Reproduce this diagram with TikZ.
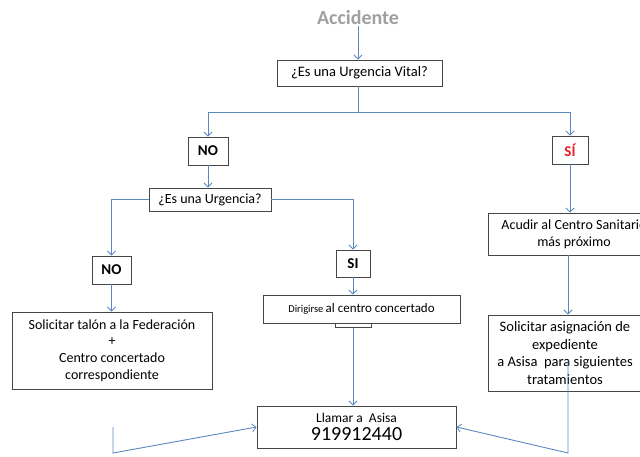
\documentclass[tikz,border=0pt]{standalone}
\usepackage{fontspec}
\setmainfont{Carlito}
\usetikzlibrary{arrows.meta}
\definecolor{lineblue}{RGB}{92,136,192}
\definecolor{boxgray}{RGB}{70,70,70}
\definecolor{accgray}{RGB}{160,160,160}
\definecolor{sired}{RGB}{235,30,35}
\tikzset{
  box/.style={draw=boxgray, line width=0.9pt, inner sep=0pt, align=center, fill=white},
  tag/.style={box, font=\fontsize{15}{18}\selectfont\bfseries},
  conn/.style={draw=lineblue, line width=0.9pt},
  arr/.style={conn, -{Straight Barb[length=4pt,width=8pt,line width=0.8pt]}},
  txt/.style={font=\fontsize{14}{16.8}\selectfont}
}
\begin{document}
\begin{tikzpicture}[x=1pt,y=-1pt]
\useasboundingbox (0,0) rectangle (640,456);
\clip (0,0) rectangle (640,456);
\fill[white] (0,0) rectangle (640,456);

\node[font=\fontsize{20}{24}\selectfont\bfseries, text=accgray, inner sep=1pt] (acc) at (358,18) {Accidente};
\node[box, minimum width=165pt, minimum height=26pt, font=\fontsize{14.5}{17}\selectfont] (vital) at (359.5,73) {¿Es una Urgencia Vital?};
\node[tag, minimum width=40pt, minimum height=28pt] (no1) at (208,151) {NO};
\node[tag, minimum width=36pt, minimum height=28pt, text=sired] (si1) at (570,150) {SÍ};
\node[box, minimum width=122pt, minimum height=23pt, font=\fontsize{14}{16}\selectfont] (urg) at (210,199.5) {¿Es una Urgencia?};
\node[tag, minimum width=39pt, minimum height=28pt] (no2) at (111.5,270) {NO};
\node[tag, minimum width=34pt, minimum height=27pt] (si2) at (353,263.5) {SI};
\node[box, minimum width=197pt, minimum height=28pt] (dir) at (361.5,309) {{\fontsize{10.5}{13}\selectfont Dirigirse} {\fontsize{13}{16}\selectfont al centro concertado}};
\node[draw=boxgray, line width=0.9pt, fill=white, minimum width=36pt, minimum height=4pt, inner sep=0pt, anchor=north] (tab) at (353,323) {};
\node[box, txt, minimum width=200pt, minimum height=77pt] (sol1) at (112,350.5) {Solicitar talón a la Federación\\+\\Centro concertado\\correspondiente};
\node[box, minimum width=199pt, minimum height=42pt] (llam) at (356.5,427) {{\fontsize{13.5}{15}\selectfont Llamar a\ \ Asisa}\\[4pt]{\fontsize{20}{21}\selectfont 919912440}};
\node[box, txt, minimum width=172pt, minimum height=42pt] (acu) at (574,234) {Acudir al Centro Sanitario\\más próximo};
\node[box, minimum width=154pt, minimum height=76pt, font=\fontsize{14.5}{17.5}\selectfont] (sol2) at (565,353) {Solicitar asignación de\\expediente\\a Asisa\ \ para siguientes\\tratamientos};

\coordinate (j1) at (358,112);
\coordinate (r1) at (568,360);
\coordinate (r2) at (568,453);
\coordinate (l1) at (113,427);
\coordinate (l2) at (113,453);

\draw[arr] (acc.south) -- (vital.north -| acc.south);
\draw[conn] (vital.south -| j1) -- (j1);
\draw[arr] (j1) -| (no1.north);
\draw[arr] (j1) -| (si1.north);
\draw[arr] (no1.south) -- (no1.south |- urg.north);
\draw[arr] (urg.west) -| (no2.north);
\draw[arr] (urg.east) -| (si2.north);
\draw[arr] (no2.south) -- (no2.south |- sol1.north);
\draw[arr] (si2.south) -- (si2.south |- dir.north);
\draw[arr] (tab.south) -- (tab.south |- llam.north);
\draw[arr] (si1.south) -- (si1.south |- acu.north);
\draw[arr] (acu.south -| r1) -- (r1 |- sol2.north);
\draw[arr] (r1) -- (r2) -- (llam.east);
\draw[arr] (l1) -- (l2) -- (llam.west);
\end{tikzpicture}
\end{document}
